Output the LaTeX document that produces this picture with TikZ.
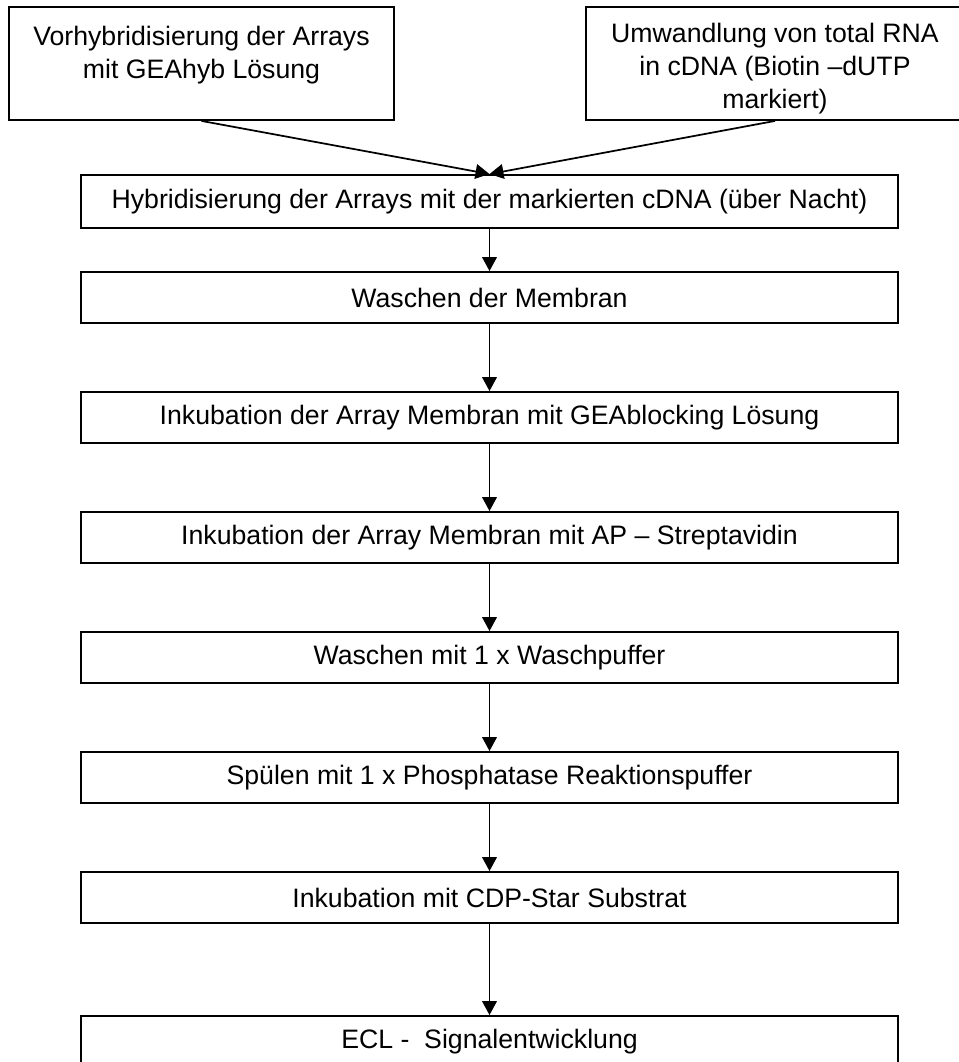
\documentclass[tikz,border=0pt]{standalone}
\usepackage{fontspec}
\setmainfont{Liberation Sans}
\usetikzlibrary{arrows.meta}
\newcommand{\topgap}{\rule{0pt}{22pt}}

\begin{document}
\begin{tikzpicture}[x=0.75pt,y=-0.75pt]
		\tikzstyle{every node}+=[inner sep=0pt, align=center, font=\fontsize{20}{24.75}\selectfont]
		\tikzstyle{stepbox}=[draw=black, line width=1.4pt, minimum width=612.75pt, minimum height=38.25pt]
		\tikzstyle{startbox}=[draw=black, line width=1.4pt, minimum height=84.75pt]
		\tikzstyle{flow}=[black, line width=1.3pt, -{Triangle[length=10.5pt,width=11pt]}]
		\useasboundingbox (0,0) rectangle (958,1062);
		\node [startbox, minimum width=288.75pt] (vorhyb) at (201.5,63.5) {\topgap Vorhybridisierung der Arrays\\mit GEAhyb Lösung\\\mbox{}};
		\node [startbox, minimum width=283.5pt] (umwand) at (775,63.5) {\topgap Umwandlung von total RNA\\in cDNA (Biotin –dUTP\\markiert)};
		\node [stepbox, minimum height=39.75pt] (hybrid) at (489.5,201.5) {Hybridisierung der Arrays mit der markierten cDNA (über Nacht)};
		\node [stepbox] (wasch) at (489.5,297.5) {Waschen der Membran};
		\node [stepbox] (block) at (489.5,417.5) {Inkubation der Array Membran mit GEAblocking Lösung};
		\node [stepbox] (strept) at (489.5,537.5) {Inkubation der Array Membran mit AP – Streptavidin};
		\node [stepbox] (puffer) at (489.5,657.5) {Waschen mit 1 x Waschpuffer};
		\node [stepbox] (spuel) at (489.5,777.5) {Spülen mit 1 x Phosphatase Reaktionspuffer};
		\node [stepbox] (cdp) at (489.5,897.5) {Inkubation mit CDP-Star Substrat};
		\node [stepbox] (ecl) at (489.5,1041.5) {ECL -\ \ Signalentwicklung};
		\draw [flow] (vorhyb.south) -- (hybrid.north);
		\draw [flow] (umwand.south) -- (hybrid.north);
		\draw [flow] (hybrid) -- (wasch);
		\draw [flow] (wasch) -- (block);
		\draw [flow] (block) -- (strept);
		\draw [flow] (strept) -- (puffer);
		\draw [flow] (puffer) -- (spuel);
		\draw [flow] (spuel) -- (cdp);
		\draw [flow] (cdp) -- (ecl);
	\end{tikzpicture}
\end{document}
